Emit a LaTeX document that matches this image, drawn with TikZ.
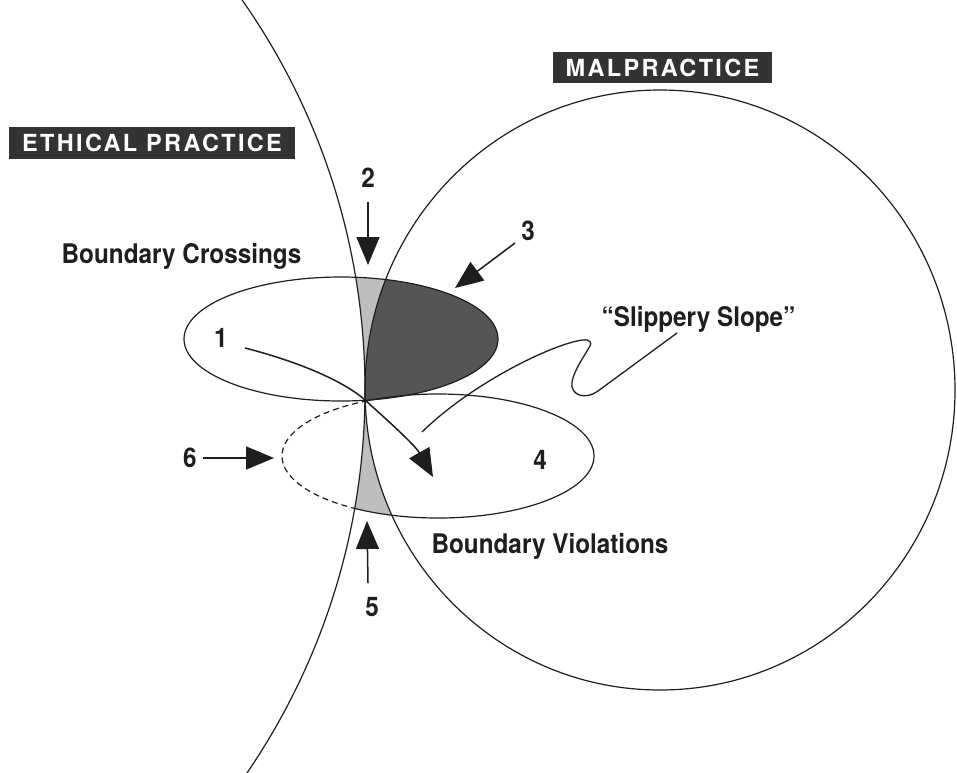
\documentclass[tikz,border=0pt]{standalone}
\usepackage{fontspec}
\usetikzlibrary{arrows.meta}
\newfontfamily\lblfont[FakeStretch=0.9]{TeX Gyre Heros}
\newfontfamily\bannerfont[LetterSpace=10]{TeX Gyre Heros}
\definecolor{ink}{HTML}{1E1E1E}
\definecolor{darkshade}{HTML}{555555}
\definecolor{lightshade}{HTML}{BEBEBE}
\definecolor{bannerfill}{HTML}{333333}
\begin{document}
\begin{tikzpicture}[x=1pt,y=-1pt,
  curve/.style={draw=ink, line width=1.2pt},
  lbl/.style={font=\lblfont\bfseries\fontsize{27}{30}\selectfont, text=ink, inner sep=0pt},
  bannerbox/.style={fill=bannerfill, text=white, inner sep=0pt,
    font=\bannerfont\bfseries\fontsize{23.5}{25}\selectfont},
  pointer/.style={draw=ink, line width=1.5pt, -{Triangle[length=28pt,width=23pt]}},
  thinline/.style={draw=ink, line width=1.3pt}
]
\useasboundingbox (0,0) rectangle (957,772);
\fill[white] (0,0) rectangle (957,772);
\clip (0,0) rectangle (957,772);

% shared geometry
\def\ethical{(-315,390) circle [radius=680pt]}
\def\malpractice{(660,390) ellipse [x radius=295pt, y radius=300pt]}
\def\crossings{(341,339) ellipse [x radius=157pt, y radius=62pt]}
\def\violations{(438,456) ellipse [x radius=156pt, y radius=62pt]}

% shaded parts of the boundary-crossings ellipse
\begin{scope}
  \clip \crossings;
  \fill[lightshade] (0,0) rectangle (957,772);
  \fill[white] \ethical;
  \fill[darkshade] \malpractice;
\end{scope}
% shaded part of the boundary-violations ellipse
\begin{scope}
  \clip \violations;
  \fill[lightshade] (0,0) rectangle (957,772);
  \fill[white] \ethical;
  \fill[white] \malpractice;
\end{scope}

% boundary-violations ellipse: dashed inside the ethical region
\draw[curve] \violations;
\begin{scope}
  \clip \ethical;
  \draw[white, line width=3.5pt] \violations;
  \draw[curve, dash pattern=on 6pt off 4pt] \violations;
\end{scope}

% main outlines
\draw[curve] \ethical;
\draw[curve] \malpractice;
\draw[curve] \crossings;

% banners
\node[bannerbox, minimum width=286pt, minimum height=32pt] (ethbanner) at (152,143) {ETHICAL PRACTICE};
\node[bannerbox, minimum width=219pt, minimum height=31pt] (malbanner) at (662.5,67.5) {MALPRACTICE};

% labels
\node[lbl, anchor=base] (crosslbl) at (181.5,263) {Boundary Crossings};
\node[lbl, anchor=base] (viollbl) at (550,553) {Boundary Violations};
\node[lbl, anchor=base] (sliplbl) at (698.5,326) {“Slippery Slope”};
\node[lbl] (n1) at (221,338) {1};
\node[lbl] (n2) at (368,178) {2};
\node[lbl] (n3) at (528,231) {3};
\node[lbl] (n4) at (540,460) {4};
\node[lbl] (n5) at (372,607) {5};
\node[lbl] (n6) at (190,458) {6};

% arrow end points
\coordinate (s1) at (245,348);
\coordinate (pinch) at (365,400);
\coordinate (t1) at (433,477);
\coordinate (s2) at (368,202);
\coordinate (t2) at (368,265);
\coordinate (s3) at (515,243);
\coordinate (t3) at (455,288);
\coordinate (s5) at (368,583);
\coordinate (t5) at (367,521);
\coordinate (s6) at (203,458);
\coordinate (t6) at (274,458);
\coordinate (slipstart) at (677,333);
\coordinate (slipend) at (422,432);

% pointers
\draw[pointer] (s2) -- (t2);
\draw[pointer] (s3) -- (t3);
\draw[pointer] (s5) -- (t5);
\draw[pointer] (s6) -- (t6);
\draw[pointer] (s1) .. controls (300,362) and (345,382) .. (pinch)
  .. controls (385,418) and (415,445) .. (t1);

% the slippery-slope squiggle
\draw[thinline] (slipstart) -- (598,391)
  .. controls (586,400) and (570,396) .. (572,382)
  .. controls (574,370) and (585,355) .. (590,346)
  .. controls (593,339) and (585,339) .. (577,341)
  .. controls (545,348) and (470,385) .. (slipend);
\end{tikzpicture}
\end{document}
